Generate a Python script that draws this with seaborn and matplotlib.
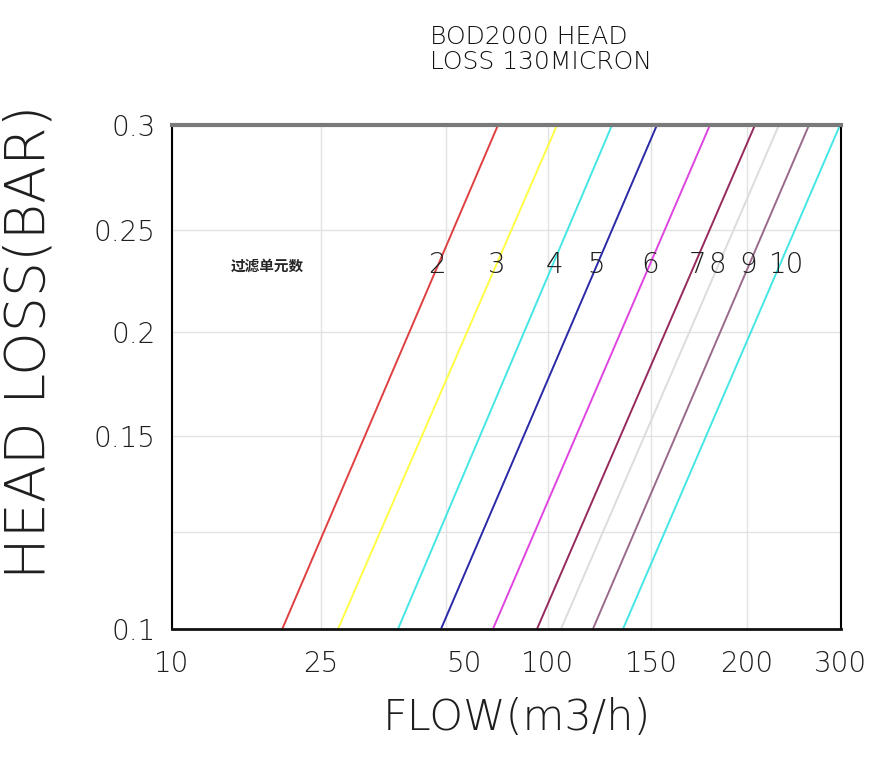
import numpy as np
import pandas as pd
import matplotlib
matplotlib.use("Agg")
import matplotlib.pyplot as plt
from matplotlib.transforms import ScaledTranslation
import seaborn as sns

# ---- data ----
elements = [2, 3, 4, 5, 6, 7, 8, 9, 10]
flow_at_low = [21.1, 28.4, 40.4, 49.0, 73.0, 94.6, 106.3, 121.8, 136.4]   # m3/h at 0.1 bar
flow_at_high = [75.5, 104.4, 131.1, 153.1, 180.7, 208.5, 234.0, 266.0, 299.0]  # m3/h at 0.3 bar
loss_low = 0.1
loss_high = 0.3
line_colors = ["#e04040", "#ffff44", "#44e6e6", "#2a2aa8", "#e044e0",
               "#962a5c", "#dcdcdc", "#9a6a8a", "#44e6e6"]
x_ticks = [10, 25, 50, 100, 150, 200, 300]
x_tick_pos = [0, 149, 274, 376, 479, 575, 669]
y_ticks = [0.1, 0.15, 0.2, 0.25, 0.3]
y_grid_extra = [0.125]
y_vals = [0.1, 0.125, 0.15, 0.2, 0.25, 0.3]
y_pos = [0, 97, 193, 297, 399, 504]
label_x_frac = [0.396, 0.486, 0.572, 0.634, 0.714, 0.785, 0.815, 0.861, 0.919]

rows = []
for e, f0, f1 in zip(elements, flow_at_low, flow_at_high):
    rows.append({"flow": f0, "loss": loss_low, "n": str(e)})
    rows.append({"flow": f1, "loss": loss_high, "n": str(e)})
df = pd.DataFrame(rows)


def make_interp(xs, ps):
    xs = np.asarray(xs, float)
    ps = np.asarray(ps, float)

    def fwd(v):
        v = np.asarray(v, float)
        out = np.interp(v, xs, ps)
        out = np.where(v < xs[0], ps[0] + (v - xs[0]) * (ps[1] - ps[0]) / (xs[1] - xs[0]), out)
        out = np.where(v > xs[-1], ps[-1] + (v - xs[-1]) * (ps[-1] - ps[-2]) / (xs[-1] - xs[-2]), out)
        return out

    def inv(p):
        p = np.asarray(p, float)
        out = np.interp(p, ps, xs)
        out = np.where(p < ps[0], xs[0] + (p - ps[0]) * (xs[1] - xs[0]) / (ps[1] - ps[0]), out)
        out = np.where(p > ps[-1], xs[-1] + (p - ps[-1]) * (xs[-1] - xs[-2]) / (ps[-1] - ps[-2]), out)
        return out
    return fwd, inv


sns.set_style("white")
plt.rcParams['font.family'] = ['DejaVu Sans']
plt.rcParams['font.weight'] = 'light'
txt_color = "#1e1e1e"

fig = plt.figure(figsize=(8.83, 7.65), dpi=100)
ax = fig.add_axes([172 / 883, 1 - 629 / 765, 669 / 883, 504 / 765])

ax.set_xscale("function", functions=make_interp(x_ticks, x_tick_pos))
ax.set_yscale("function", functions=make_interp(y_vals, y_pos))

sns.lineplot(data=df, x="flow", y="loss", hue="n", palette=line_colors,
             linewidth=1.4, legend=False, ax=ax, sort=True, estimator=None)

ax.set_xlim(x_ticks[0], x_ticks[-1])
ax.set_ylim(loss_low, loss_high)

ax.set_xticks(x_ticks)
ax.set_xticklabels([str(t) for t in x_ticks])
ax.set_yticks(y_ticks)
ax.set_yticklabels([f"{t:g}" for t in y_ticks])
ax.set_yticks(y_grid_extra, minor=True)
ax.set_xticks([], minor=True)

ax.grid(True, which="both", color="#e2e2e2", linewidth=1.0)
ax.set_axisbelow(True)

ax.tick_params(axis="x", which="major", direction="out", length=14, width=1,
               color="#dddddd", labelsize=20, pad=1, labelcolor=txt_color)
ax.tick_params(axis="y", which="major", direction="out", length=8, width=1,
               color="#dddddd", labelsize=20, pad=4, labelcolor=txt_color)
ax.tick_params(axis="y", which="minor", length=0)
xt = ax.xaxis.get_major_ticks()
for i in (0, len(xt) - 1):
    xt[i].tick1line.set_color("black")
    xt[i].tick1line.set_markeredgewidth(1.5)
yt = ax.yaxis.get_major_ticks()
for i in (0, len(yt) - 1):
    yt[i].tick1line.set_color("black")
    yt[i].tick1line.set_markeredgewidth(1.5)
# the "50" label sits a little to the right of its grid line in the reference
xt[2].label1.set_transform(xt[2].label1.get_transform()
                           + ScaledTranslation(0.18, 0, fig.dpi_scale_trans))

for s in ("left", "right"):
    ax.spines[s].set_color("black")
    ax.spines[s].set_linewidth(1.5)
ax.spines["bottom"].set_color("#111111")
ax.spines["bottom"].set_linewidth(2.0)
ax.spines["top"].set_color("#7a7a7a")
ax.spines["top"].set_linewidth(3.0)
for s in ax.spines.values():
    s.set_visible(True)

ax.set_xlabel("FLOW(m3/h)", fontsize=31, color=txt_color, fontweight="light")
ax.xaxis.set_label_coords(0.516, -0.135)
ax.set_ylabel("HEAD LOSS(BAR)", fontsize=40, color=txt_color, fontweight="light")
ax.yaxis.set_label_coords(-0.173, 0.569)

fig.text(430 / 883, 1 - 25 / 765, "BOD2000 HEAD\nLOSS 130MICRON", fontsize=18,
         ha="left", va="top", color="#111111", linespacing=1.05)

ax.text(0.143, 0.722, "过滤单元数", transform=ax.transAxes, ha="center", va="center",
        fontsize=10.5, fontweight="bold", family=["Noto Sans CJK SC", "DejaVu Sans"])
for e, fx in zip(elements, label_x_frac):
    ax.text(fx, 0.722, str(e), transform=ax.transAxes, ha="center", va="center",
            fontsize=20, color=txt_color)

fig.savefig("out.png", dpi=100)
